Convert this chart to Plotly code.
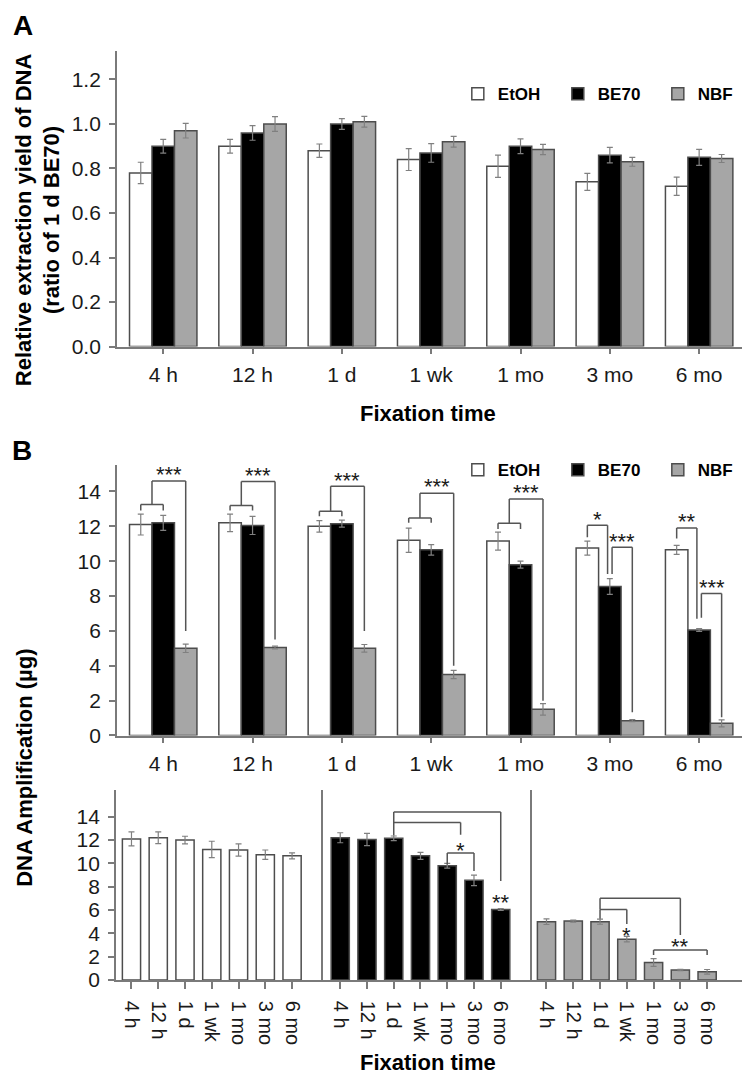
import plotly.graph_objects as go

# ---------------- data ----------------
times = ["4 h", "12 h", "1 d", "1 wk", "1 mo", "3 mo", "6 mo"]
fixatives = ["EtOH", "BE70", "NBF"]

# Panel A: relative extraction yield (ratio of 1 d BE70)
yield_etoh = [0.78, 0.90, 0.88, 0.84, 0.81, 0.74, 0.72]
yield_be70 = [0.90, 0.96, 1.00, 0.87, 0.90, 0.86, 0.85]
yield_nbf = [0.97, 1.00, 1.01, 0.92, 0.885, 0.83, 0.845]
yield_etoh_err = [0.048, 0.031, 0.030, 0.049, 0.050, 0.038, 0.041]
yield_be70_err = [0.031, 0.033, 0.024, 0.042, 0.033, 0.035, 0.036]
yield_nbf_err = [0.033, 0.033, 0.024, 0.024, 0.023, 0.020, 0.018]

# Panel B: DNA amplification (ug)
amp_etoh = [12.1, 12.2, 12.0, 11.2, 11.15, 10.75, 10.65]
amp_be70 = [12.2, 12.05, 12.15, 10.65, 9.8, 8.55, 6.05]
amp_nbf = [5.0, 5.05, 5.0, 3.5, 1.5, 0.85, 0.7]
amp_etoh_err = [0.60, 0.50, 0.33, 0.70, 0.52, 0.40, 0.26]
amp_be70_err = [0.43, 0.52, 0.20, 0.30, 0.20, 0.45, 0.08]
amp_nbf_err = [0.24, 0.08, 0.22, 0.24, 0.33, 0.06, 0.20]

# significance brackets, upper B: (time, left bar, right bar, top, left end, right end, label, label y)
upper_brackets = [
    ("4 h", "EtOH", "BE70", 13.25, 12.9, 12.9, "", 0),
    ("4 h", "EtOH|BE70", "NBF", 14.6, 13.25, 6.0, "***", 15.3),
    ("12 h", "EtOH", "BE70", 13.2, 12.9, 12.9, "", 0),
    ("12 h", "EtOH|BE70", "NBF", 14.57, 13.2, 5.5, "***", 15.27),
    ("1 d", "EtOH", "BE70", 12.86, 12.57, 12.57, "", 0),
    ("1 d", "EtOH|BE70", "NBF", 14.3, 12.86, 6.0, "***", 15.0),
    ("1 wk", "EtOH", "BE70", 12.48, 12.2, 12.2, "", 0),
    ("1 wk", "EtOH|BE70", "NBF", 13.9, 12.48, 4.0, "***", 14.6),
    ("1 mo", "EtOH", "BE70", 12.17, 11.85, 11.85, "", 0),
    ("1 mo", "EtOH|BE70", "NBF", 13.56, 12.17, 2.0, "***", 14.26),
    ("3 mo", "EtOH", "BE70-", 12.06, 11.37, 9.26, "*", 12.76),
    ("3 mo", "BE70+", "NBF", 10.8, 9.26, 1.33, "***", 11.5),
    ("6 mo", "EtOH", "BE70-", 11.9, 11.3, 6.7, "**", 12.6),
    ("6 mo", "BE70+", "NBF", 8.15, 6.75, 1.05, "***", 8.85),
]
# significance brackets, lower B (within one fixative): (fixative, left time pos, right time pos, top, left end, right end)
lower_brackets = [
    ("BE70", 2, 6, 14.4, 12.4, 8.5),
    ("BE70", 2, 4.5, 13.5, 13.5, 12.45),
    ("BE70", 4, 5, 10.9, 9.9, 9.35),
    ("NBF", 2, 5, 7.0, 6.05, 3.85),
    ("NBF", 2, 3, 6.05, 5.25, 4.8),
    ("NBF", 4, 6, 2.57, 2.15, 2.15),
]
lower_stars = [
    ("BE70", 4.5, 11.6, "*"),
    ("BE70", 6, 7.2, "**"),
    ("NBF", 3, 4.35, "*"),
    ("NBF", 5, 3.4, "**"),
]

# ---------------- style ----------------
W, H = 750, 1078
FONT = "Liberation Sans, Arial, Helvetica, sans-serif"
fill = {"EtOH": "white", "BE70": "black", "NBF": "#a6a6a6"}
EDGE = "#4d4d4d"
AXC = "#7a7a7a"
BRK = "#555555"
BARGAP = 0.245
WBAR = (1 - BARGAP) / 3


def px(xpx):
    return xpx / W


def py(ypx):
    return 1 - ypx / H


fig = go.Figure()

yield_vals = {"EtOH": (yield_etoh, yield_etoh_err), "BE70": (yield_be70, yield_be70_err),
              "NBF": (yield_nbf, yield_nbf_err)}
amp_vals = {"EtOH": (amp_etoh, amp_etoh_err), "BE70": (amp_be70, amp_be70_err),
            "NBF": (amp_nbf, amp_nbf_err)}


def err(arr):
    return dict(type="data", array=arr, color="#808080", thickness=1.2, width=3)


for f in fixatives:
    v, e = yield_vals[f]
    fig.add_trace(go.Bar(x=times, y=v, name=f, error_y=err(e), xaxis="x", yaxis="y",
                         marker=dict(color=fill[f], line=dict(color=EDGE, width=1.5)),
                         legend="legend"))
for f in fixatives:
    v, e = amp_vals[f]
    fig.add_trace(go.Bar(x=times, y=v, name=f, error_y=err(e), xaxis="x2", yaxis="y2",
                         marker=dict(color=fill[f], line=dict(color=EDGE, width=1.5)),
                         legend="legend2"))
for k, f in enumerate(fixatives):
    v, e = amp_vals[f]
    fig.add_trace(go.Bar(x=times, y=v, name=f, error_y=err(e), xaxis=f"x{k+3}", yaxis=f"y{k+3}",
                         width=0.68, showlegend=False,
                         marker=dict(color=fill[f], line=dict(color=EDGE, width=1.5))))

tickfont = dict(family=FONT, size=21, color="#1a1a1a")
axbase = dict(showline=True, linecolor=AXC, linewidth=1.5, showgrid=False, zeroline=False,
              ticks="outside", ticklen=6, tickwidth=1.5, tickcolor=AXC, tickfont=tickfont,
              fixedrange=True)

# main panels
xdom = [px(111), px(749)]
fig.update_layout(
    xaxis=dict(axbase, domain=xdom, anchor="y", range=[-0.52, 6.48], ticklabelstandoff=3),
    yaxis=dict(axbase, domain=[py(342), py(43)], anchor="x", range=[0, 1.33],
               tickvals=[0, 0.2, 0.4, 0.6, 0.8, 1.0, 1.2], tickformat=".1f",
               ticklabelstandoff=4),
    xaxis2=dict(axbase, domain=xdom, anchor="y2", range=[-0.52, 6.48], ticklabelstandoff=3),
    yaxis2=dict(axbase, domain=[py(735), py(462)], anchor="x2", range=[0, 15.5],
                tickvals=list(range(0, 15, 2)), ticklabelstandoff=4),
)
# lower B: three side-by-side panels
low_dom = [(110, 321, -0.586, 7.14), (321, 535, -0.66, 7.18), (535, 750, -0.53, 7.34)]
for k, (a, b, r0, r1) in enumerate(low_dom):
    n = k + 3
    xa = dict(axbase, domain=[px(a), px(b)], anchor=f"y{n}", range=[r0, r1], tickangle=90,
              ticklen=7, tickfont=dict(tickfont, size=20), ticklabelstandoff=8)
    ya = dict(axbase, domain=[py(982), py(790)], anchor=f"x{n}", range=[0, 16.3],
              tickvals=list(range(0, 15, 2)), ticklabelstandoff=4)
    if k > 0:
        ya.update(showticklabels=False, ticks="")
    fig.update_layout(**{f"xaxis{n}": xa, f"yaxis{n}": ya})

# brackets
shapes = []
annotations = []


def bar_pos(t, which):
    i = times.index(t)
    off = {"EtOH": -WBAR, "BE70": 0.0, "NBF": WBAR, "EtOH|BE70": -WBAR / 2,
           "BE70-": -0.1 * WBAR, "BE70+": 0.1 * WBAR}[which]
    return i + off


def add_bracket(xr, yr, x1, x2, top, l1, l2):
    for (xa, ya, xb, yb) in [(x1, l1, x1, top), (x1, top, x2, top), (x2, top, x2, l2)]:
        if ya == yb and xa == xb:
            continue
        shapes.append(dict(type="line", xref=xr, yref=yr, x0=xa, y0=ya, x1=xb, y1=yb,
                           line=dict(color=BRK, width=1.5)))


def star(xr, yr, x, y, txt):
    annotations.append(dict(xref=xr, yref=yr, x=x, y=y, text=txt, showarrow=False,
                            xanchor="center", yanchor="middle", yshift=-6,
                            font=dict(family=FONT, size=22, color="#1a1a1a")))


for (t, l, r, top, l1, l2, lab, ly) in upper_brackets:
    x1, x2 = bar_pos(t, l), bar_pos(t, r)
    add_bracket("x2", "y2", x1, x2, top, l1, l2)
    if lab:
        star("x2", "y2", (x1 + x2) / 2, ly, lab)

axis_of = {"EtOH": 3, "BE70": 4, "NBF": 5}
for (f, a, b, top, l1, l2) in lower_brackets:
    n = axis_of[f]
    add_bracket(f"x{n}", f"y{n}", a, b, top, l1, l2)
for (f, x, y, lab) in lower_stars:
    n = axis_of[f]
    star(f"x{n}", f"y{n}", x, y, lab)

# text labels
bold = dict(family=FONT, size=22, color="black", weight="bold")
annotations += [
    dict(xref="paper", yref="paper", x=px(3), y=1, text="A", showarrow=False,
         xanchor="left", yanchor="top", font=dict(bold, size=28)),
    dict(xref="paper", yref="paper", x=px(14), y=py(447), text="B", showarrow=False,
         xanchor="center", yanchor="middle", font=dict(bold, size=28)),
    dict(xref="paper", yref="paper", x=px(30), y=py(214),
         text="Relative extraction yield of DNA<br>(ratio of 1 d BE70)", showarrow=False,
         textangle=-90, xanchor="center", yanchor="middle", font=bold),
    dict(xref="paper", yref="paper", x=px(429), y=py(410), text="Fixation time",
         showarrow=False, xanchor="center", yanchor="middle", font=bold),
    dict(xref="paper", yref="paper", x=px(16), y=py(768), text="DNA Amplification (µg)",
         showarrow=False, textangle=-90, xanchor="center", yanchor="middle", font=bold),
    dict(xref="paper", yref="paper", x=px(429), y=py(1065), text="Fixation time",
         showarrow=False, xanchor="center", yanchor="middle", font=bold),
]

legend_style = dict(orientation="h", xanchor="left", yanchor="middle", bgcolor="rgba(0,0,0,0)",
                    font=dict(family=FONT, size=17, color="black", weight="bold"),
                    entrywidth=55, entrywidthmode="pixels", itemclick=False,
                    itemdoubleclick=False)
fig.update_layout(
    width=W, height=H, margin=dict(l=0, r=0, t=0, b=0),
    paper_bgcolor="white", plot_bgcolor="white",
    barmode="group", bargap=BARGAP,
    legend=dict(legend_style, x=px(459), y=py(87)),
    legend2=dict(legend_style, x=px(459), y=py(467)),
    shapes=shapes, annotations=annotations,
)

fig.write_html("out.html")
